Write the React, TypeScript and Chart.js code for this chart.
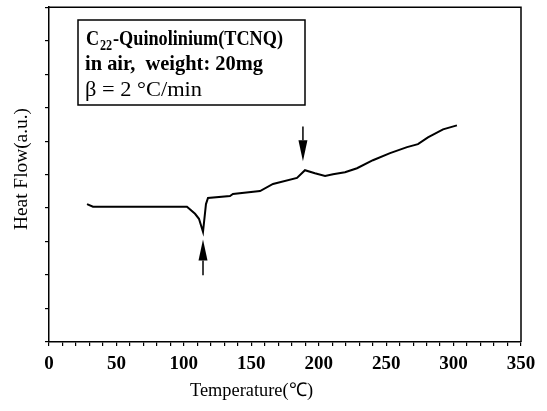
import React, { useEffect, useRef } from "react";
import { Chart, registerables } from "chart.js";

Chart.register(...registerables);

const temperatures = [28.2, 32.6, 60, 90, 102.3, 108.3, 111.2, 114.2, 116.4, 117.9, 134.2, 136.4, 156.5, 166.1, 183.9, 189.8, 197.2, 204.7, 210.6, 219.5, 228.4, 240.2, 252.9, 265.5, 273.6, 281.0, 292.2, 302.5];
const heatFlow = [4.12, 4.04, 4.04, 4.04, 4.04, 3.83, 3.68, 3.29, 4.12, 4.30, 4.36, 4.42, 4.51, 4.72, 4.90, 5.13, 5.04, 4.96, 5.01, 5.07, 5.19, 5.43, 5.64, 5.82, 5.91, 6.11, 6.35, 6.47];
const xTickLabels = [0, 50, 100, 150, 200, 250, 300, 350];
const boxLines = ["in air,  weight: 20mg", "β = 2 °C/min"];
const arrowDown = { t: 188.3, from: 6.44, to: 5.4 };
const arrowUp = { t: 114.2, from: 1.99, to: 3.06 };

function fitText(ctx: CanvasRenderingContext2D, text: string, x: number, y: number, w: number) {
  const m = ctx.measureText(text).width;
  ctx.save();
  ctx.translate(x, y);
  ctx.scale(w / m, 1);
  ctx.fillText(text, 0, 0);
  ctx.restore();
}

const annot = {
  id: "annot",
  afterDatasetsDraw(chart: any) {
    const ctx: CanvasRenderingContext2D = chart.ctx;
    const { chartArea: a, scales } = chart;
    const xs = scales.x, ys = scales.y;
    ctx.save();
    ctx.strokeStyle = "#000";
    ctx.fillStyle = "#000";
    ctx.lineWidth = 1.5;
    ctx.beginPath();
    ctx.moveTo(a.left, a.top);
    ctx.lineTo(a.right, a.top);
    ctx.lineTo(a.right, a.bottom);
    ctx.stroke();

    const drawArrow = (t: number, from: number, to: number) => {
      const x = xs.getPixelForValue(t);
      const y1 = ys.getPixelForValue(from);
      const y2 = ys.getPixelForValue(to);
      const dir = y2 > y1 ? 1 : -1;
      const head = 21;
      ctx.lineWidth = 1.5;
      ctx.beginPath();
      ctx.moveTo(x, y1);
      ctx.lineTo(x, y2 - dir * head);
      ctx.stroke();
      ctx.beginPath();
      ctx.moveTo(x, y2);
      ctx.lineTo(x - 4.5, y2 - dir * head);
      ctx.lineTo(x + 4.5, y2 - dir * head);
      ctx.closePath();
      ctx.fill();
    };
    drawArrow(arrowDown.t, arrowDown.from, arrowDown.to);
    drawArrow(arrowUp.t, arrowUp.from, arrowUp.to);

    ctx.fillStyle = "#fff";
    ctx.fillRect(78, 20, 227, 85);
    ctx.fillStyle = "#000";
    ctx.lineWidth = 1.5;
    ctx.strokeRect(78, 20, 227, 85);
    ctx.textBaseline = "alphabetic";
    ctx.textAlign = "left";
    const big = "bold 21px 'Liberation Serif'";
    const small = "bold 14px 'Liberation Serif'";
    ctx.font = big;
    const wC = ctx.measureText("C").width;
    const wRest = ctx.measureText("-Quinolinium(TCNQ)").width;
    ctx.font = small;
    const wSub = ctx.measureText("22").width;
    const total = wC + wSub + 2 + wRest;
    const sx = 197 / total;
    ctx.save();
    ctx.translate(86, 45);
    ctx.scale(sx, 1);
    ctx.font = big;
    ctx.fillText("C", 0, 0);
    ctx.font = small;
    ctx.fillText("22", wC + 1, 5);
    ctx.font = big;
    ctx.fillText("-Quinolinium(TCNQ)", wC + wSub + 2, 0);
    ctx.restore();
    ctx.font = big;
    fitText(ctx, boxLines[0], 85, 70, 178);
    ctx.font = "22px 'Liberation Serif'";
    fitText(ctx, boxLines[1], 85, 96, 117);

    ctx.font = "19px 'Liberation Serif'";
    ctx.textAlign = "left";
    fitText(ctx, "Temperature(℃)", 190, 396, 123);
    ctx.save();
    ctx.translate(27, 230);
    ctx.rotate(-Math.PI / 2);
    fitText(ctx, "Heat Flow(a.u.)", 0, 0, 122);
    ctx.restore();
    ctx.restore();
  },
};

export default function App() {
  const ref = useRef<HTMLCanvasElement>(null);
  useEffect(() => {
    const chart = new Chart(ref.current!, {
      type: "line",
      data: {
        datasets: [
          {
            data: temperatures.map((t, i) => ({ x: t, y: heatFlow[i] })),
            borderColor: "#000",
            borderWidth: 2,
            pointRadius: 0,
            tension: 0,
            fill: false,
          },
        ],
      },
      options: {
        animation: false,
        responsive: false,
        layout: { padding: { top: 5, right: 26, left: 0, bottom: 0 } },
        plugins: { legend: { display: false }, tooltip: { enabled: false } },
        scales: {
          x: {
            type: "linear",
            min: 0,
            max: 350,
            afterFit: (s: any) => { s.height = 69; },
            afterBuildTicks: (s: any) => {
              const t = [];
              for (let v = 0; v <= 350; v += 10) t.push({ value: v });
              s.ticks = t;
            },
            ticks: {
              autoSkip: false,
              maxRotation: 0,
              padding: 7,
              color: "#000",
              font: { family: "'Liberation Serif'", size: 19, weight: "bold" },
              callback: (v: any) => (xTickLabels.includes(Number(v)) ? String(v) : ""),
            },
            grid: { drawOnChartArea: false, drawTicks: true, tickLength: 4, color: "#000", lineWidth: 1.2 },
            border: { display: true, color: "#000", width: 1.5 },
          },
          y: {
            min: 0,
            max: 10,
            afterFit: (s: any) => { s.width = 49; },
            ticks: { stepSize: 1, callback: () => "", padding: 0 },
            grid: { drawOnChartArea: false, drawTicks: true, tickLength: 4, color: "#000", lineWidth: 1.2 },
            border: { display: true, color: "#000", width: 1.5 },
          },
        },
      },
      plugins: [annot],
    } as any);
    return () => chart.destroy();
  }, []);
  return (
    <div style={{ position: "fixed", left: 0, top: 0, width: 547, height: 411, background: "#fff" }}>
      <canvas ref={ref} width={547} height={411} style={{ width: 547, height: 411 }} />
    </div>
  );
}
